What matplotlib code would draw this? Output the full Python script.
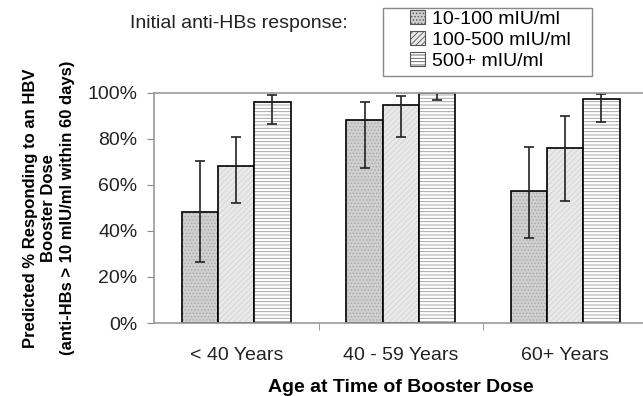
import numpy as np
import matplotlib
matplotlib.use("Agg")
import matplotlib.pyplot as plt
from matplotlib.patches import Patch, Rectangle

plt.rcParams['font.family'] = ['Liberation Sans', 'DejaVu Sans']
plt.rcParams['hatch.linewidth'] = 0.6

age_groups = ["< 40 Years", "40 - 59 Years", "60+ Years"]
series_names = ["10-100 mIU/ml", "100-500 mIU/ml", "500+ mIU/ml"]
# predicted % responding, per response group (rows) and age group (cols)
values = [
    [48, 88, 57.5],
    [68, 94.5, 76],
    [96, 99.7, 97.2],
]
err_low = [
    [26.5, 67.5, 37],
    [52, 80.7, 53],
    [86.3, 97, 87.2],
]
err_high = [
    [70.2, 96, 76.3],
    [80.7, 98.4, 89.8],
    [98.8, 100, 99.6],
]

faces = ['#cfcfcf', '#e9e9e9', '#ffffff']
hatches = ['.....', '//////', '-----']
hatch_cols = ['#a8a8a8', '#d2d2d2', '#9a9a9a']

fig = plt.figure(figsize=(6.43, 3.96), dpi=100)
ax = fig.add_axes([154 / 643, 73 / 396, 493.5 / 643, 230.3 / 396])

x = np.arange(len(age_groups))
w = 0.22
for i in range(3):
    v = np.array(values[i]) / 100
    lo = v - np.array(err_low[i]) / 100
    hi = np.array(err_high[i]) / 100 - v
    pos = x + (i - 1) * w
    ax.bar(pos, v, w, color=faces[i], edgecolor=hatch_cols[i], hatch=hatches[i], linewidth=0)
    ax.bar(pos, v, w, fill=False, edgecolor='black', linewidth=1.2)
    ax.errorbar(pos, v, yerr=[lo, hi], fmt='none', ecolor='#222222', elinewidth=1.2,
                capsize=3.5, capthick=1.2)

ax.set_xlim(-0.5, 2.5)
ax.set_ylim(0, 1.0)
ticks = np.arange(0, 1.01, 0.2)
ax.set_yticks(ticks)
ax.set_yticklabels([f"{int(round(t * 100))}%" for t in ticks], fontsize=14, color='#222222')
ax.set_xticks(x)
ax.set_xticklabels(age_groups, fontsize=14, color='#222222')
ax.set_xticks([0.5, 1.5], minor=True)
ax.tick_params(axis='x', which='major', length=0, pad=17)
ax.tick_params(axis='x', which='minor', length=5, color='#888888', direction='out')
ax.tick_params(axis='y', length=5, color='#888888', pad=7, direction='out')
for s in ['left', 'bottom', 'top', 'right']:
    ax.spines[s].set_color('#999999')
    ax.spines[s].set_linewidth(1.2)

ax.set_xlabel("Age at Time of Booster Dose", fontsize=14, fontweight='bold', labelpad=11)
ax.set_ylabel("Predicted % Responding to an HBV\nBooster Dose\n(anti-HBs > 10 mIU/ml within 60 days)",
              fontsize=12, fontweight='bold', labelpad=9, linespacing=1.3)

fig.text(130 / 643, 1 - 24 / 396, "Initial anti-HBs response:", fontsize=14, va='center', color='#222222')

# legend box drawn by hand, wider than the entries
fig.patches.append(Rectangle((383 / 643, 1 - 76 / 396), 209 / 643, 68 / 396, transform=fig.transFigure,
                             facecolor='white', edgecolor='#888888', linewidth=1.0, zorder=1))
handles = [Patch(facecolor=faces[i], edgecolor='#555555', hatch=hatches[i], linewidth=0.8) for i in range(3)]
leg = fig.legend(handles, series_names, loc='upper left', bbox_to_anchor=(410 / 643, 1 - 10 / 396),
                 fontsize=14, frameon=False, handlelength=0.75, handleheight=0.75, handletextpad=0.4,
                 labelspacing=0.15, borderpad=0, borderaxespad=0)
leg.set_zorder(2)

fig.savefig("out.png", dpi=100)
